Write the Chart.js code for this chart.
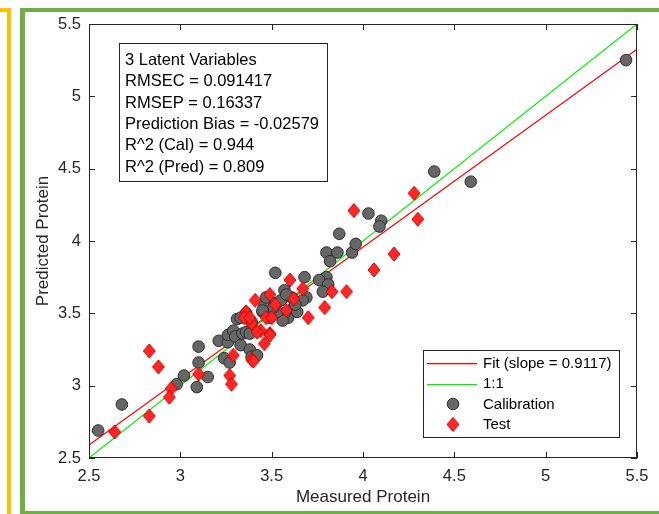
<!DOCTYPE html>
<html>
<head>
<meta charset="utf-8">
<script src="https://cdn.jsdelivr.net/npm/chart.js@4.4.0/dist/chart.umd.min.js"></script>
<style>
  html, body { margin: 0; padding: 0; background: #fff; }
  #plot { display: block; }
</style>
</head>
<body>
<canvas id="plot" width="659" height="514"></canvas>
<script>
// calibration samples (measured, predicted)
const calX = [2.55, 2.68, 2.98, 3.02, 3.09, 3.10, 3.10, 3.15, 3.21, 3.26, 3.26, 3.29, 3.30, 3.33, 3.34, 3.36, 3.38, 3.39, 3.24, 3.27,
  3.31, 3.36, 3.39, 3.45, 3.46, 3.47, 3.52, 3.55, 3.57, 3.59, 3.57, 3.62, 3.61, 3.64, 3.52, 3.68, 3.80, 3.76, 3.81, 3.78,
  3.58, 3.69, 3.67, 3.63, 3.56, 3.53, 3.49, 3.51, 3.45, 3.33, 3.38, 3.42, 3.87, 3.80, 3.86, 3.82, 3.94, 3.96, 4.03, 4.10,
  4.09, 4.39, 4.59, 5.44];
const calY = [2.69, 2.87, 3.01, 3.07, 2.99, 3.27, 3.16, 3.06, 3.31, 3.30, 3.35, 3.38, 3.34, 3.28, 3.36, 3.37, 3.25, 3.20, 3.19, 3.16,
  3.46, 3.50, 3.44, 3.51, 3.56, 3.61, 3.57, 3.59, 3.66, 3.47, 3.50, 3.54, 3.61, 3.51, 3.78, 3.75, 3.75, 3.73, 3.70, 3.65,
  3.63, 3.61, 3.59, 3.56, 3.45, 3.51, 3.47, 3.54, 3.52, 3.47, 3.36, 3.21, 4.05, 3.92, 3.92, 3.86, 3.92, 3.98, 4.19, 4.14,
  4.10, 4.48, 4.41, 5.25];

// test samples
const testX = [2.64, 2.83, 2.83, 2.88, 2.95, 2.94, 3.10, 3.29, 3.27, 3.28, 3.39, 3.46, 3.49, 3.36, 3.41, 3.49, 3.52, 3.39, 3.47, 3.44,
  3.35, 3.60, 3.67, 3.62, 3.58, 3.70, 3.79, 3.83, 3.91, 4.06, 4.17, 3.38, 3.50, 3.42, 3.49, 3.40, 3.95, 4.28, 4.30];
const testY = [2.68, 2.79, 3.24, 3.13, 2.98, 2.92, 3.08, 3.21, 3.07, 3.01, 3.18, 3.29, 3.36, 3.51, 3.59, 3.63, 3.56, 3.43, 3.47, 3.38,
  3.47, 3.73, 3.67, 3.60, 3.52, 3.47, 3.54, 3.65, 3.65, 3.80, 3.91, 3.47, 3.47, 3.37, 3.35, 3.17, 4.21, 4.33, 4.15];

// fit line and 1:1 line end points
const fitX = [2.5, 5.5];
const fitY = [2.59, 5.325];
const oneX = [2.5, 5.5];
const oneY = [2.5, 5.5];

const axisMin = 2.5, axisMax = 5.5, axisStep = 0.5;

const statLines = [
  "3 Latent Variables",
  "RMSEC = 0.091417",
  "RMSEP = 0.16337",
  "Prediction Bias = -0.02579",
  "R^2 (Cal) = 0.944",
  "R^2 (Pred) = 0.809"
];
const legendLabels = ["Fit (slope = 0.9117)", "1:1", "Calibration", "Test"];

const FONT = '"Liberation Sans", Arial, sans-serif';
const INK = "#262626";
const FIT_COLOR = "#ff0000";
const ONE_COLOR = "#00f000";
const CAL_FILL = "#666666";
const CAL_EDGE = "#2e2e2e";

function pts(xs, ys) {
  return xs.map((x, i) => ({ x: x, y: ys[i] }));
}

// matlab style diamond, a bit taller than wide
function makeDiamond(w, h) {
  const cv = document.createElement("canvas");
  cv.width = w + 2;
  cv.height = h + 2;
  const g = cv.getContext("2d");
  g.beginPath();
  g.moveTo(cv.width / 2, 1);
  g.lineTo(cv.width - 1, cv.height / 2);
  g.lineTo(cv.width / 2, cv.height - 1);
  g.lineTo(1, cv.height / 2);
  g.closePath();
  g.fillStyle = "#ff2626";
  g.fill();
  g.strokeStyle = "#c40000";
  g.lineWidth = 1;
  g.stroke();
  return cv;
}
const diamond = makeDiamond(12, 14);

/*------------------------------------------
decoration, axes box with inner ticks, text box and legend
-------------------------------------------*/
const decor = {
  id: "decor",
  beforeDraw(chart) {
    const c = chart.ctx;
    c.save();
    c.fillStyle = "#fff";
    c.fillRect(0, 0, chart.width, chart.height);
    c.fillStyle = "#ffc000";
    c.fillRect(0, 8, 11, 4);
    c.fillRect(7, 8, 4, 506);
    c.fillStyle = "#70ad47";
    c.fillRect(20, 8, 639, 4);
    c.fillRect(20, 8, 5, 506);
    c.fillRect(20, 511, 639, 3);
    c.restore();
  },
  afterDraw(chart) {
    const c = chart.ctx;
    const a = chart.chartArea;
    const sx = chart.scales.x, sy = chart.scales.y;
    c.save();
    c.strokeStyle = INK;
    c.lineWidth = 1;
    c.strokeRect(a.left + 0.5, a.top + 0.5, a.right - a.left - 1, a.bottom - a.top - 1);
    c.beginPath();
    sx.ticks.forEach((t) => {
      const px = Math.round(sx.getPixelForValue(t.value)) + 0.5;
      c.moveTo(px, a.bottom); c.lineTo(px, a.bottom - 6);
      c.moveTo(px, a.top); c.lineTo(px, a.top + 6);
    });
    sy.ticks.forEach((t) => {
      const py = Math.round(sy.getPixelForValue(t.value)) + 0.5;
      c.moveTo(a.left, py); c.lineTo(a.left + 6, py);
      c.moveTo(a.right, py); c.lineTo(a.right - 6, py);
    });
    c.stroke();

    // stats box
    c.fillStyle = "#fff";
    c.fillRect(119, 43, 208, 138);
    c.strokeStyle = INK;
    c.strokeRect(119.5, 43.5, 208, 138);
    c.fillStyle = "#000";
    c.font = "16.5px " + FONT;
    c.textBaseline = "middle";
    c.textAlign = "left";
    statLines.forEach((s, i) => c.fillText(s, 125, 60.5 + i * 21.3));

    // legend
    c.fillStyle = "#fff";
    c.fillRect(423, 350, 196, 87);
    c.strokeStyle = INK;
    c.lineWidth = 1;
    c.strokeRect(423.5, 350.5, 196, 87);
    c.font = "15px " + FONT;
    const rows = [363, 383.5, 404, 424.5];
    legendLabels.forEach((lab, i) => {
      const y = rows[i];
      if (i < 2) {
        c.fillStyle = i === 0 ? FIT_COLOR : ONE_COLOR;
        c.fillRect(427, Math.round(y), 50, 1.3);
      } else if (i === 2) {
        c.beginPath();
        c.arc(453, y, 5.8, 0, Math.PI * 2);
        c.fillStyle = CAL_FILL;
        c.fill();
        c.lineWidth = 1;
        c.strokeStyle = CAL_EDGE;
        c.stroke();
      } else {
        c.drawImage(diamond, 453 - diamond.width / 2, y - diamond.height / 2);
      }
      c.fillStyle = "#000";
      c.fillText(lab, 483, y + 0.5);
    });
    c.restore();
  },
};

const tickText = (v) => String(Number(v.toFixed(1)));

const ctxPlot = document.getElementById("plot").getContext("2d");
const chartPlot = new Chart(ctxPlot, {
  type: "scatter",
  data: {
    datasets: [
      {
        label: legendLabels[0],
        data: pts(fitX, fitY),
        showLine: true,
        borderColor: FIT_COLOR,
        borderWidth: 1.2,
        pointRadius: 0,
        order: 3,
      },
      {
        label: legendLabels[1],
        data: pts(oneX, oneY),
        showLine: true,
        borderColor: ONE_COLOR,
        borderWidth: 1.2,
        pointRadius: 0,
        order: 2,
      },
      {
        label: legendLabels[2],
        data: pts(calX, calY),
        pointRadius: 5.8,
        backgroundColor: CAL_FILL,
        borderColor: CAL_EDGE,
        borderWidth: 1,
        order: 1,
      },
      {
        label: legendLabels[3],
        data: pts(testX, testY),
        pointStyle: diamond,
        order: 0,
      },
    ],
  },
  options: {
    responsive: false,
    animation: false,
    layout: { padding: { top: 24, right: 22, left: 0, bottom: 0 } },
    plugins: {
      legend: { display: false },
      tooltip: { enabled: false },
    },
    scales: {
      x: {
        type: "linear",
        min: axisMin,
        max: axisMax,
        grid: { display: false, drawTicks: false },
        border: { display: false },
        ticks: { stepSize: axisStep, padding: 9, color: INK, font: { family: FONT, size: 16.5 }, callback: tickText },
        title: {
          display: true,
          text: "Measured Protein",
          color: INK,
          font: { family: FONT, size: 17 },
          padding: { top: 0, bottom: 6 },
        },
        afterFit(scale) { scale.height = 56; },
      },
      y: {
        type: "linear",
        min: axisMin,
        max: axisMax,
        grid: { display: false, drawTicks: false },
        border: { display: false },
        ticks: { stepSize: axisStep, padding: 8, color: INK, font: { family: FONT, size: 16.5 }, callback: tickText },
        title: {
          display: true,
          text: "Predicted Protein",
          color: INK,
          font: { family: FONT, size: 17 },
          padding: { top: 33, bottom: 0 },
        },
        afterFit(scale) { scale.width = 89; },
      },
    },
  },
  plugins: [decor],
});
</script>
</body>
</html>
